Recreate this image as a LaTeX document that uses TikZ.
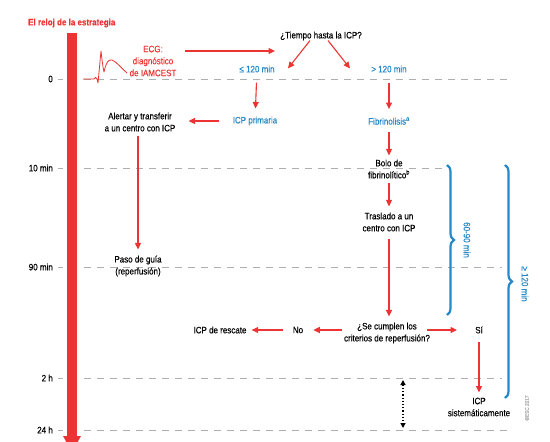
\documentclass[tikz,border=0pt]{standalone}
\usepackage{fontspec}
\setmainfont{Liberation Sans}[FakeStretch=0.86, FakeBold=0.3, BoldFont=Liberation Sans Bold, BoldFeatures={FakeStretch=0.86}]
\usetikzlibrary{arrows.meta,decorations.pathreplacing,calc}
\definecolor{ecred}{RGB}{236,52,52}
\definecolor{ecblue}{RGB}{38,136,198}
\definecolor{gridgrey}{RGB}{175,175,175}
\begin{document}
\begin{tikzpicture}[x=1pt,y=-1pt,
  txt/.style={inner sep=0pt, align=center, font=\fontsize{9.3}{12}\selectfont},
  btxt/.style={txt, text=black},
  rtxt/.style={txt, text=ecred},
  bltxt/.style={txt, text=ecblue},
  arr/.style={draw=ecred, line width=1.1pt, -{Triangle[length=6.5pt,width=6pt]}},
  gridline/.style={draw=gridgrey, line width=0.8pt, dash pattern=on 7pt off 6pt},
  tlab/.style={txt, anchor=east, text=black},
  brc/.style={draw=ecblue, line width=2.2pt, decorate, decoration={brace, amplitude=7pt}}]
\useasboundingbox (0,0) rectangle (550,442);

% title
\node[txt, anchor=west, text=ecred, font=\fontsize{9.3}{12}\selectfont\bfseries] (title) at (28,23) {El reloj de la estrategia};

% time labels and grid lines
\node[tlab] (t0) at (53,79) {0};
\node[tlab] (t10) at (53,168) {10 min};
\node[tlab] (t90) at (53,267) {90 min};
\node[tlab] (t2) at (53,378) {2 h};
\node[tlab] (t24) at (53,430) {24 h};
\coordinate (eA) at (512,0);
\coordinate (eB) at (447,0);
\coordinate (eC) at (502,0);
\draw[gridline] ([xshift=5pt]t0.east) -- (t0 -| eA);
\draw[gridline] ([xshift=5pt]t10.east) -- (t10 -| eB);
\draw[gridline] ([xshift=5pt]t90.east) -- (t90 -| eC);
\draw[gridline] ([xshift=5pt]t2.east) -- (t2 -| eC);
\draw[gridline] ([xshift=5pt]t24.east) -- (t24 -| eA);

% clock bar
\fill[white] (63,33) rectangle (81,442);
\fill[ecred] (67,33) rectangle (77,440);
\fill[ecred] (63,436) -- (81,436) -- (72,452) -- cycle;

% ECG trace
\draw[ecred, line width=0.8pt, line join=round] (83,79) -- (94,79)
  .. controls (95,77) and (96,77) .. (97,79) -- (98,83) -- (101,51)
  .. controls (102,60) and (103,68) .. (104,72)
  .. controls (106,63) and (108,59) .. (112,60)
  .. controls (117,62) and (122,69) .. (127,73);

% nodes
\node[rtxt] (ecg) at (153,61) {ECG:\\diagnóstico\\de IAMCEST};
\node[btxt] (q) at (321,36) {¿Tiempo hasta la ICP?};
\node[bltxt] (le) at (257,69) {≤ 120 min};
\node[bltxt] (gt) at (389,69) {> 120 min};
\node[bltxt] (prim) at (255,121) {ICP primaria};
\node[btxt] (alert) at (140,122) {Alertar y transferir\\a un centro con ICP};
\node[btxt] (paso) at (138,266) {Paso de guía\\(reperfusión)};
\node[bltxt] (fib) at (389,121) {Fibrinolisis\textsuperscript{a}};
\node[btxt] (bolo) at (389,169) {Bolo de\\fibrinolítico\textsuperscript{b}};
\node[btxt] (tras) at (389,222) {Traslado a un\\centro con ICP};
\node[btxt] (crit) at (387,333) {¿Se cumplen los\\criterios de reperfusión?};
\node[btxt] (no) at (298,330) {No};
\node[btxt] (resc) at (220,330) {ICP de rescate};
\node[btxt] (si) at (479,330) {Sí};
\node[btxt] (sist) at (479,407) {ICP\\sistemáticamente};
\node[bltxt, rotate=-90] (l6090) at (467,240) {60-90 min};
\node[bltxt, rotate=-90] (l120) at (525,284) {≥ 120 min};
\node[txt, rotate=90, text=gridgrey, font=\fontsize{5.5}{7}\selectfont] (copy) at (527,408) {©ESC 2017};

% connectors
\draw[arr] ([xshift=8pt,yshift=10pt]ecg.east) -- ([xshift=-5pt,yshift=-15pt]q.west);
\draw[arr] ([xshift=-11pt]q.south) -- ([xshift=31pt,yshift=-3pt]le.north);
\draw[arr] ([xshift=7pt]q.south) -- ([xshift=-39pt,yshift=-3pt]gt.north);
\draw[arr, shorten <=10pt, shorten >=8pt] (le) -- (prim);
\draw[arr, shorten <=10pt, shorten >=8pt] (gt) -- (fib);
\draw[arr, shorten <=14pt, shorten >=13pt] (prim.west) -- (alert.east |- prim.west);
\draw[arr, shorten <=4pt, shorten >=6pt] ([xshift=-2pt]alert.south) -- ([xshift=0pt]paso.north);
\draw[arr, shorten <=7pt, shorten >=4pt] (fib) -- (bolo);
\draw[arr, shorten <=4pt, shorten >=6pt] (bolo) -- (tras);
\draw[arr, shorten <=7pt, shorten >=6pt] (tras.south) -- (tras.south |- crit.north);
\draw[arr, shorten <=2pt, shorten >=10pt] ([yshift=3pt]crit.west) -- (no);
\draw[arr, shorten <=10pt, shorten >=5pt] (no) -- (resc);
\draw[arr, shorten <=-3pt, shorten >=18pt] ([yshift=3pt]crit.east) -- (si);
\draw[arr, shorten <=8pt, shorten >=5pt] (si) -- (sist.north);

% dotted interval
\coordinate (d1) at (403,380);
\coordinate (d2) at (403,428);
\draw[black, line width=1.2pt, dotted, {Triangle[length=5pt,width=5pt]}-{Triangle[length=5pt,width=5pt]}] (d1) -- (d2);

% braces
\coordinate (b1a) at (447,165);
\coordinate (b1b) at (447,315);
\coordinate (b2a) at (505,165);
\coordinate (b2b) at (505,398);
\draw[brc] (b1a) -- (b1b);
\draw[brc] (b2a) -- (b2b);
\end{tikzpicture}
\end{document}
